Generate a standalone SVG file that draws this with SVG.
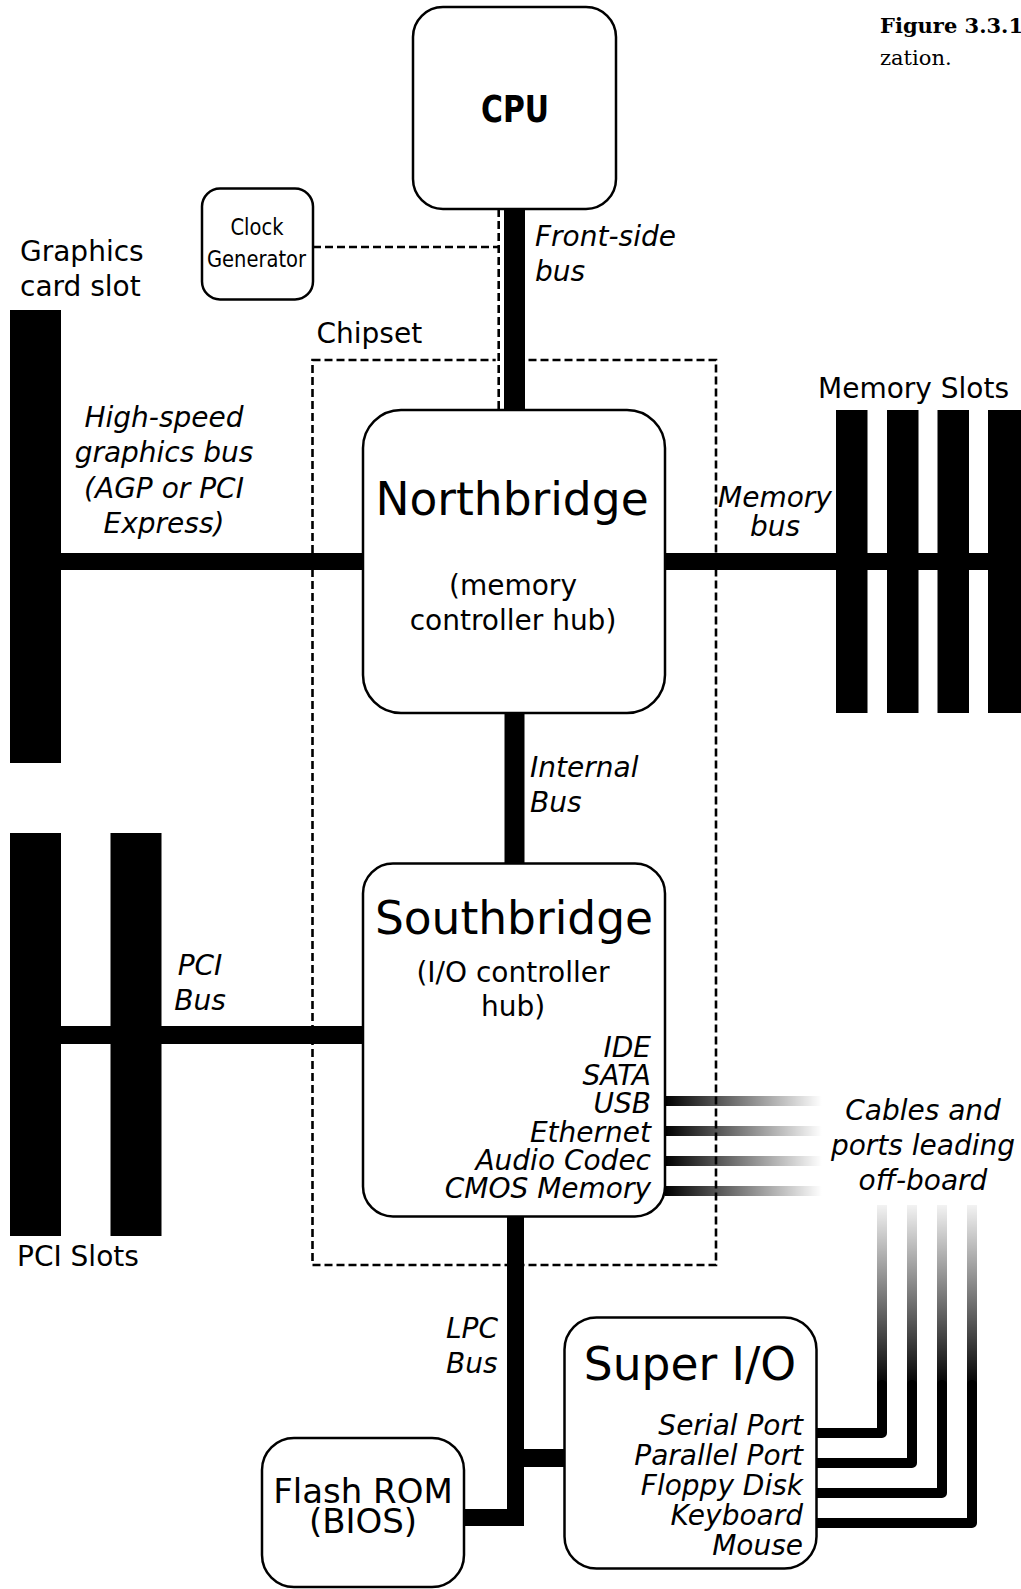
<svg xmlns="http://www.w3.org/2000/svg" width="1021" height="1589" viewBox="0 0 1021 1589">
<style>
 text { font-family: "DejaVu Sans", "Liberation Sans", sans-serif; fill:#000; }
 .box { fill:#fff; stroke:#000; stroke-width:2.5; }
 .lbl { font-size:28px; }
 .it { font-style: italic; }
 .big { font-size:45.5px; }
 .bus { stroke:#000; fill:none; }
 .dash { fill:none; stroke:#000; stroke-width:2.6; stroke-dasharray:8 4; }
 .slot { fill:#000; }
 .cap { font-family: "DejaVu Serif", "Liberation Serif", serif; font-size:21px; }
 .cond { font-family: "DejaVu Sans Condensed", "DejaVu Sans", sans-serif; font-stretch: condensed; }
 .mid { text-anchor: middle; }
 .end { text-anchor: end; }
 .port { stroke:#000; stroke-width:10; fill:none; stroke-linecap:round; stroke-linejoin:round; }
</style>
<defs>
 <linearGradient id="gh" x1="0" y1="0" x2="1" y2="0">
  <stop offset="0" stop-color="#000"/>
  <stop offset="1" stop-color="#000" stop-opacity="0"/>
 </linearGradient>
 <linearGradient id="gv" x1="0" y1="1" x2="0" y2="0">
  <stop offset="0" stop-color="#000"/>
  <stop offset="1" stop-color="#000" stop-opacity="0.05"/>
 </linearGradient>
</defs>
<rect width="1021" height="1589" fill="#fff"/>

<g id="caption">
 <text class="cap" x="880" y="33" font-weight="bold" font-size="22">Figure 3.3.1</text>
 <text class="cap" x="880" y="65">zation.</text>
</g>

<g id="connectors">
 <g id="offboard-cables">
  <rect x="665" y="1096" width="157" height="10" fill="url(#gh)"/>
  <rect x="665" y="1126" width="157" height="10" fill="url(#gh)"/>
  <rect x="665" y="1156" width="157" height="10" fill="url(#gh)"/>
  <rect x="665" y="1186" width="157" height="10" fill="url(#gh)"/>
  <rect x="877" y="1205" width="10" height="182" fill="url(#gv)"/>
  <rect x="907" y="1205" width="10" height="182" fill="url(#gv)"/>
  <rect x="937" y="1205" width="10" height="182" fill="url(#gv)"/>
  <rect x="967" y="1205" width="10" height="182" fill="url(#gv)"/>
  <path class="port" d="M812,1433 H882 V1385"/>
  <path class="port" d="M812,1463 H912 V1385"/>
  <path class="port" d="M812,1493 H942 V1385"/>
  <path class="port" d="M812,1523 H972 V1385"/>
 </g>
 <rect id="chipset" class="dash" x="312.5" y="360" width="403.5" height="905"/>
 <line x1="498.7" y1="209" x2="498.7" y2="410" stroke="#fff" stroke-width="6"/>
 <line class="dash" x1="498.7" y1="209" x2="498.7" y2="410"/>
 <line class="dash" x1="313" y1="247" x2="499" y2="247"/>
 <line class="bus" x1="514.5" y1="208" x2="514.5" y2="411" stroke-width="21"/>
 <line class="bus" x1="514.5" y1="712" x2="514.5" y2="864" stroke-width="20"/>
 <line class="bus" x1="61" y1="561.5" x2="364" y2="561.5" stroke-width="17"/>
 <line class="bus" x1="664" y1="561.5" x2="1021" y2="561.5" stroke-width="17"/>
 <line class="bus" x1="61" y1="1035" x2="364" y2="1035" stroke-width="18"/>
 <path class="bus" d="M515.5,1215 V1517.5 H463" stroke-width="17" stroke-linejoin="miter"/>
 <line class="bus" x1="515" y1="1458" x2="566" y2="1458" stroke-width="18"/>
</g>

<g id="graphics-slot">
 <rect class="slot" x="10" y="310" width="51" height="453"/>
 <text class="lbl" x="20" y="261">Graphics</text>
 <text class="lbl" x="20" y="296">card slot</text>
</g>
<g id="pci-slots">
 <rect class="slot" x="10" y="833" width="51" height="403"/>
 <rect class="slot" x="110.5" y="833" width="51" height="403"/>
 <text class="lbl" x="17" y="1266">PCI Slots</text>
</g>
<g id="memory-slots">
 <rect class="slot" x="836" y="410" width="31.5" height="303"/>
 <rect class="slot" x="887" y="410" width="31.5" height="303"/>
 <rect class="slot" x="937.5" y="410" width="31.5" height="303"/>
 <rect class="slot" x="988" y="410" width="33" height="303"/>
 <text class="lbl" x="818" y="397.5">Memory Slots</text>
</g>

<g id="cpu">
 <rect class="box" x="413" y="7" width="203" height="202" rx="30"/>
 <text class="cond" x="481" y="122" font-size="37" font-weight="bold" textLength="68" lengthAdjust="spacingAndGlyphs">CPU</text>
</g>
<g id="clock-generator">
 <rect class="box" x="202" y="188.5" width="111" height="111" rx="18"/>
 <text class="cond" x="230.5" y="235" font-size="23" textLength="53" lengthAdjust="spacingAndGlyphs">Clock</text>
 <text class="cond" x="207" y="267" font-size="23" textLength="99" lengthAdjust="spacingAndGlyphs">Generator</text>
</g>
<g id="chipset-label">
 <text class="lbl" x="316.5" y="342.5">Chipset</text>
</g>
<g id="northbridge">
 <rect class="box" x="363" y="410" width="302" height="303" rx="38"/>
 <text class="big mid" x="512" y="515">Northbridge</text>
 <text class="lbl mid" x="513" y="595">(memory</text>
 <text class="lbl mid" x="513" y="630">controller hub)</text>
</g>
<g id="southbridge">
 <rect class="box" x="363" y="863.5" width="302" height="353" rx="30"/>
 <text class="big mid" x="514" y="934">Southbridge</text>
 <text class="lbl mid" x="513" y="981.5">(I/O controller</text>
 <text class="lbl mid" x="513" y="1016">hub)</text>
 <g class="lbl it end">
  <text x="651" y="1056.7">IDE</text>
  <text x="651" y="1085">SATA</text>
  <text x="651" y="1113.3">USB</text>
  <text x="651" y="1141.7">Ethernet</text>
  <text x="651" y="1170">Audio Codec</text>
  <text x="651" y="1198.3">CMOS Memory</text>
 </g>
</g>
<g id="super-io">
 <rect class="box" x="564.5" y="1317.5" width="252" height="251" rx="32"/>
 <text class="big mid" x="690" y="1380">Super I/O</text>
 <g class="it end" font-size="28">
  <text x="803" y="1435">Serial Port</text>
  <text x="803" y="1465">Parallel Port</text>
  <text x="803" y="1495">Floppy Disk</text>
  <text x="803" y="1525">Keyboard</text>
  <text x="803" y="1555">Mouse</text>
 </g>
</g>
<g id="flash-rom">
 <rect class="box" x="262" y="1438" width="202" height="149" rx="32"/>
 <text class="mid" x="363" y="1502.5" font-size="34">Flash ROM</text>
 <text class="mid" x="363" y="1532.5" font-size="34">(BIOS)</text>
</g>

<g id="bus-labels" class="lbl it">
 <text x="535" y="246">Front-side</text>
 <text x="535" y="281">bus</text>
 <text class="mid" x="164" y="427">High-speed</text>
 <text class="mid" x="164" y="462">graphics bus</text>
 <text class="mid" x="164" y="497.5">(AGP or PCI</text>
 <text class="mid" x="164" y="532.5">Express)</text>
 <text class="mid" x="775" y="507">Memory</text>
 <text class="mid" x="775" y="535.5">bus</text>
 <text x="530" y="777">Internal</text>
 <text x="530" y="812">Bus</text>
 <text class="mid" x="200" y="975">PCI</text>
 <text class="mid" x="200" y="1010">Bus</text>
 <text x="446" y="1338">LPC</text>
 <text x="446" y="1373">Bus</text>
 <text class="mid" x="923" y="1120">Cables and</text>
 <text class="mid" x="923" y="1155">ports leading</text>
 <text class="mid" x="923" y="1190">off-board</text>
</g>
</svg>
